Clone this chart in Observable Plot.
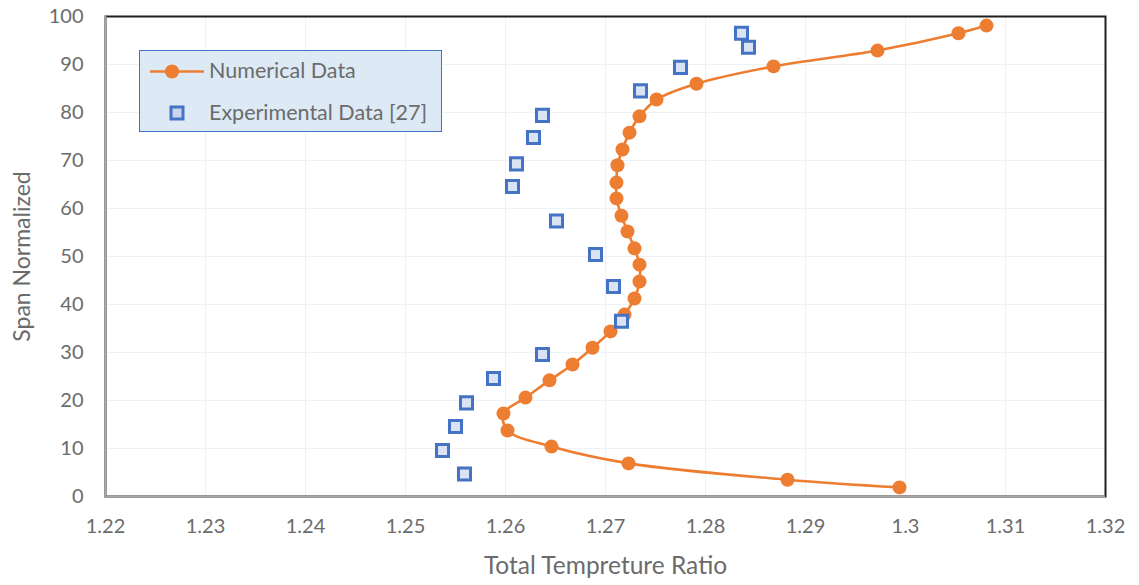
<!DOCTYPE html>
<html>
<head>
<meta charset="utf-8">
<script src="https://cdn.jsdelivr.net/npm/d3@7"></script>
<script src="https://cdn.jsdelivr.net/npm/@observablehq/plot@0.6"></script>
<style>
  html, body { margin: 0; padding: 0; background: #fff; }
  #wrap { position: relative; width: 1139px; height: 585px; font-family: Lato, "Open Sans", sans-serif; }
  #legend { position: absolute; left: 139px; top: 50px; width: 303px; height: 82px;
    background: #dde9f5; border: 1.6px solid #4472c4; box-sizing: border-box; }
  #legend .lbl { position: absolute; left: 69px; font-size: 21.5px; color: #6b6b6b; white-space: nowrap; }
</style>
</head>
<body>
<div id="wrap"></div>
<script>
// Numerical data (orange line with circles)
const numTemp = [1.2994, 1.2882, 1.2723, 1.2646, 1.2602, 1.2598, 1.2620, 1.2644, 1.2667, 1.2687,
                 1.2705, 1.2719, 1.2729, 1.2734, 1.2734, 1.2729, 1.2722, 1.2716, 1.2711, 1.2711,
                 1.2712, 1.2717, 1.2724, 1.2734, 1.2751, 1.2791, 1.2868, 1.2972, 1.3053, 1.3081];
const numSpan = [1.9, 3.5, 6.9, 10.4, 13.75, 17.3, 20.6, 24.2, 27.5, 31.0,
                 34.4, 37.9, 41.25, 44.8, 48.3, 51.7, 55.2, 58.5, 62.1, 65.4,
                 69.0, 72.3, 75.8, 79.2, 82.7, 86.0, 89.6, 92.9, 96.5, 98.1];
// Experimental data [27] (blue squares)
const expTemp = [1.2836, 1.2843, 1.2775, 1.2735, 1.2637, 1.2628, 1.2611, 1.2607, 1.2651,
                 1.2690, 1.2708, 1.2716, 1.2637, 1.2588, 1.2561, 1.2550, 1.2537, 1.2559];
const expSpan = [96.5, 93.6, 89.4, 84.5, 79.4, 74.8, 69.3, 64.6, 57.4,
                 50.4, 43.75, 36.5, 29.6, 24.6, 19.5, 14.6, 9.6, 4.7];
// Axis ticks
const xTicks = [1.22, 1.23, 1.24, 1.25, 1.26, 1.27, 1.28, 1.29, 1.30, 1.31, 1.32];
const xTickLabels = ["1.22", "1.23", "1.24", "1.25", "1.26", "1.27", "1.28", "1.29", "1.3", "1.31", "1.32"];
const yTicks = [0, 10, 20, 30, 40, 50, 60, 70, 80, 90, 100];
const seriesNames = ["Numerical Data", "Experimental Data [27]"];

const numData = numTemp.map((t, i) => ({t, s: numSpan[i]}));
const expData = expTemp.map((t, i) => ({t, s: expSpan[i]}));

const orange = "#ed7d31", blue = "#4472c4", blueFill = "#dae3f3";

const chart = Plot.plot({
  width: 1139,
  height: 585,
  marginLeft: 105,
  marginRight: 34,
  marginTop: 16,
  marginBottom: 89,
  style: { fontFamily: "Lato, 'Open Sans', sans-serif", background: "#fff", overflow: "visible" },
  x: { domain: [1.22, 1.32], ticks: xTicks, tickFormat: d => xTickLabels[xTicks.indexOf(d)], label: null },
  y: { domain: [0, 100], ticks: yTicks, label: null },
  marks: [
    Plot.gridX(xTicks, { stroke: "#edf1f8", strokeOpacity: 1, strokeWidth: 1 }),
    Plot.gridY(yTicks, { stroke: "#edf1f8", strokeOpacity: 1, strokeWidth: 1 }),
    Plot.frame({ stroke: "#1f1f1f", strokeWidth: 2 }),
    Plot.ruleX([1.22], { stroke: "#a6a6a6", strokeWidth: 2 }),
    Plot.ruleY([0], { stroke: "#a6a6a6", strokeWidth: 2 }),
    Plot.axisX({ ticks: xTicks, tickSize: 0, tickPadding: 22, fontSize: 20, fill: "#6b6b6b",
      tickFormat: d => xTickLabels[xTicks.indexOf(d)], label: null }),
    Plot.axisY({ ticks: yTicks, tickSize: 0, tickPadding: 22, fontSize: 20, fill: "#6b6b6b", label: null }),
    Plot.text(["Total Tempreture Ratio"], { frameAnchor: "bottom", dy: 77, fontSize: 24.5, fill: "#6b6b6b" }),
    Plot.text(["Span Normalized"], { frameAnchor: "left", textAnchor: "middle", dx: -83, rotate: -90, fontSize: 23, fill: "#6b6b6b" }),
    Plot.line(numData, { x: "t", y: "s", stroke: orange, strokeWidth: 2.6, curve: "catmull-rom" }),
    Plot.dot(numData, { x: "t", y: "s", r: 7, fill: orange, stroke: "none" }),
    Plot.dot(expData, { x: "t", y: "s", symbol: "square", r: 6.8, fill: blueFill, stroke: blue, strokeWidth: 3 })
  ]
});

const wrap = document.getElementById("wrap");
wrap.appendChild(chart);

const legend = document.createElement("div");
legend.id = "legend";
legend.innerHTML = `
  <svg width="70" height="80" style="position:absolute;left:0;top:0">
    <line x1="10" x2="64" y1="20.5" y2="20.5" stroke="${orange}" stroke-width="2.6"/>
    <circle cx="32" cy="20.5" r="7" fill="${orange}"/>
    <rect x="31" y="56" width="12" height="12" fill="#c7d6ee" stroke="${blue}" stroke-width="3"/>
  </svg>
  <div class="lbl" style="top:6px">${seriesNames[0]}</div>
  <div class="lbl" style="top:48px">${seriesNames[1]}</div>`;
wrap.appendChild(legend);
</script>
</body>
</html>
